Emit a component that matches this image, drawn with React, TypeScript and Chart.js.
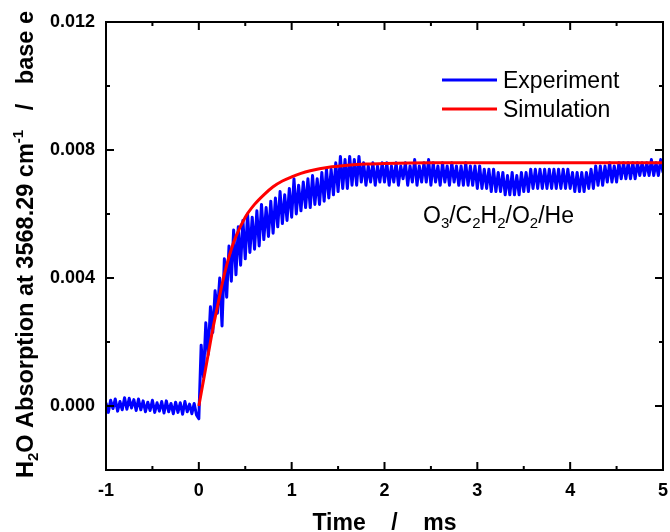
import React, { useEffect, useRef } from 'react';
import { Chart, registerables } from 'chart.js';

Chart.register(...registerables);

// ---- data ----
const expStart = -1;
const expStep = 0.025;
// t = -1.000 .. -0.025
const expBaseline = [
  0.0001, -0.0002, 0.00018, -0.00008, 0.00022, -0.00016, 0.00014, -0.00012, 0.00026, -0.0001,
  0.00024, -0.00006, 0.0002, -0.00014, 0.00022, -0.00012, 0.00016, -0.00018, 0.00012, -0.00014,
  0.00018, -0.0002, 0.0001, -0.00016, 0.00014, -0.00022, 0.00016, -0.00018, 0.00008, -0.00024,
  0.00012, -0.0002, 0.0001, -0.00026, 0.00014, -0.00018, 0.00006, -0.00024, 0.00008, -0.00028,
];
// t = 0.000 .. 1.975
const expRise = [
  -0.0004, 0.0019, 0.0009, 0.0026, 0.0016, 0.0031, 0.0023, 0.0036, 0.0029, 0.004,
  0.0025, 0.0046, 0.0034, 0.005, 0.0039, 0.0055, 0.0041, 0.0056, 0.0044, 0.0058,
  0.0046, 0.006, 0.0048, 0.0059, 0.0049, 0.0061, 0.005, 0.0063, 0.0052, 0.0062,
  0.0053, 0.0064, 0.0054, 0.0065, 0.0056, 0.0067, 0.0057, 0.0066, 0.0058, 0.0068,
  0.0059, 0.0071, 0.006, 0.0069, 0.0061, 0.007, 0.0062, 0.0071, 0.0062, 0.0072,
  0.0063, 0.0071, 0.0063, 0.0073, 0.0064, 0.0074, 0.0065, 0.0074, 0.0066, 0.0076,
  0.0067, 0.0078, 0.0068, 0.0077, 0.0068, 0.0078, 0.0069, 0.0077, 0.0069, 0.0078,
  0.007, 0.0076, 0.0069, 0.0075, 0.007, 0.0076, 0.0069, 0.0075, 0.007, 0.0076,
];
// t = 2.000 .. 5.000
const expPlateau = [
  0.007, 0.0076, 0.0069, 0.0075, 0.007, 0.0076, 0.0069, 0.0075, 0.0071, 0.0076,
  0.0069, 0.0075, 0.007, 0.0077, 0.0069, 0.0075, 0.007, 0.0076, 0.007, 0.0077,
  0.0069, 0.0076, 0.007, 0.0075, 0.0069, 0.0076, 0.007, 0.0075, 0.0069, 0.0076,
  0.007, 0.0075, 0.0069, 0.0075, 0.0069, 0.0076, 0.0069, 0.0075, 0.0069, 0.0075,
  0.0068, 0.0075, 0.0068, 0.0074, 0.0068, 0.0074, 0.0067, 0.0074, 0.0067, 0.0073,
  0.0067, 0.0073, 0.0066, 0.0072, 0.0066, 0.0073, 0.0066, 0.0072, 0.0066, 0.0073,
  0.0067, 0.0073, 0.0067, 0.0074, 0.0068, 0.0074, 0.0068, 0.0074, 0.0068, 0.0074,
  0.0068, 0.0074, 0.0068, 0.0074, 0.0068, 0.0074, 0.0068, 0.0074, 0.0068, 0.0074,
  0.0068, 0.0073, 0.0067, 0.0073, 0.0067, 0.0073, 0.0067, 0.0073, 0.0068, 0.0074,
  0.0068, 0.0075, 0.0069, 0.0075, 0.0069, 0.0075, 0.007, 0.0076, 0.007, 0.0075,
  0.007, 0.0076, 0.0071, 0.0076, 0.0071, 0.0076, 0.0071, 0.0076, 0.0071, 0.0076,
  0.0072, 0.0076, 0.0072, 0.0076, 0.0072, 0.0077, 0.0072, 0.0076, 0.0072, 0.0077,
  0.0073,
];

const simTime = [0, 0.05, 0.1, 0.15, 0.2, 0.25, 0.3, 0.35, 0.4, 0.5, 0.6, 0.7, 0.8, 0.9, 1.0, 1.1, 1.2, 1.4, 1.6, 1.8, 2.0, 2.5, 3, 4, 5];
const simValue = [0, 0.0008, 0.0016, 0.0024, 0.0031, 0.0038, 0.0044, 0.0049, 0.0053, 0.0059, 0.0063, 0.0066, 0.00685, 0.00703, 0.00716, 0.00727, 0.00735, 0.00746, 0.00752, 0.00756, 0.00758, 0.0076, 0.0076, 0.0076, 0.0076];

const xMajorTicks = [-1, 0, 1, 2, 3, 4, 5];
const xMinorTicks = [-0.5, 0.5, 1.5, 2.5, 3.5, 4.5];
const yMajorTicks = [0, 0.004, 0.008, 0.012];
const yMinorTicks = [0.002, 0.006, 0.01];

const seriesNames = ['Experiment', 'Simulation'];
const seriesColors = ['#0000ff', '#ff0000'];

const FONT = "'Liberation Sans', Arial, Helvetica, sans-serif";

type Run = { t: string; size: number; dy: number };

function runsWidth(ctx: CanvasRenderingContext2D, runs: Run[], weight: string) {
  let w = 0;
  for (const r of runs) {
    ctx.font = `${weight} ${r.size}px ${FONT}`;
    w += ctx.measureText(r.t).width;
  }
  return w;
}

function drawRuns(ctx: CanvasRenderingContext2D, runs: Run[], x: number, y: number, weight: string) {
  let cx = x;
  ctx.textBaseline = 'alphabetic';
  ctx.textAlign = 'left';
  for (const r of runs) {
    ctx.font = `${weight} ${r.size}px ${FONT}`;
    ctx.fillText(r.t, cx, y + r.dy);
    cx += ctx.measureText(r.t).width;
  }
}

const decorPlugin = {
  id: 'decor',
  afterDatasetsDraw(chart: any) {
    const { ctx, chartArea: a, scales } = chart;
    const xs = scales.x;
    const ys = scales.y;
    ctx.save();
    ctx.strokeStyle = '#000';
    ctx.lineWidth = 2;
    ctx.beginPath();
    const tick = (px: number, len: number, horiz: boolean) => {
      if (horiz) {
        ctx.moveTo(px, a.bottom);
        ctx.lineTo(px, a.bottom - len);
        ctx.moveTo(px, a.top);
        ctx.lineTo(px, a.top + len);
      } else {
        ctx.moveTo(a.left, px);
        ctx.lineTo(a.left + len, px);
        ctx.moveTo(a.right, px);
        ctx.lineTo(a.right - len, px);
      }
    };
    xMajorTicks.forEach((v) => tick(xs.getPixelForValue(v), 8, true));
    xMinorTicks.forEach((v) => tick(xs.getPixelForValue(v), 4, true));
    yMajorTicks.forEach((v) => tick(ys.getPixelForValue(v), 8, false));
    yMinorTicks.forEach((v) => tick(ys.getPixelForValue(v), 4, false));
    ctx.stroke();
    ctx.strokeRect(a.left, a.top, a.right - a.left, a.bottom - a.top);
    ctx.restore();
  },
  afterDraw(chart: any) {
    const { ctx, chartArea: a } = chart;
    ctx.save();
    ctx.fillStyle = '#000';

    // Legend
    const legendY = [80, 109];
    seriesNames.forEach((name, i) => {
      ctx.strokeStyle = seriesColors[i];
      ctx.lineWidth = 3;
      ctx.beginPath();
      ctx.moveTo(442, legendY[i]);
      ctx.lineTo(497, legendY[i]);
      ctx.stroke();
      ctx.font = `normal 23px ${FONT}`;
      ctx.textAlign = 'left';
      ctx.textBaseline = 'alphabetic';
      ctx.fillStyle = '#000';
      ctx.fillText(name, 503, legendY[i] + 8);
    });

    // Annotation
    const ann: Run[] = [
      { t: 'O', size: 23, dy: 0 },
      { t: '3', size: 15, dy: 5 },
      { t: '/C', size: 23, dy: 0 },
      { t: '2', size: 15, dy: 5 },
      { t: 'H', size: 23, dy: 0 },
      { t: '2', size: 15, dy: 5 },
      { t: '/O', size: 23, dy: 0 },
      { t: '2', size: 15, dy: 5 },
      { t: '/He', size: 23, dy: 0 },
    ];
    drawRuns(ctx, ann, 423, 223, 'normal');

    // X title
    const xt: Run[] = [{ t: 'Time    /    ms', size: 23, dy: 0 }];
    const xw = runsWidth(ctx, xt, 'bold');
    drawRuns(ctx, xt, (a.left + a.right) / 2 - xw / 2, 530, 'bold');

    // Y title (rotated)
    const yt: Run[] = [
      { t: 'H', size: 23.5, dy: 0 },
      { t: '2', size: 15, dy: 5 },
      { t: 'O Absorption at 3568.29 cm', size: 23.5, dy: 0 },
      { t: '-1', size: 15, dy: -10 },
      { t: '   /   base e', size: 23.5, dy: 0 },
    ];
    const yw = runsWidth(ctx, yt, 'bold');
    ctx.translate(33, 244.5);
    ctx.rotate(-Math.PI / 2);
    drawRuns(ctx, yt, -yw / 2, 0, 'bold');
    ctx.restore();
  },
};

export default function App() {
  const ref = useRef<HTMLCanvasElement | null>(null);
  useEffect(() => {
    if (!ref.current) return;
    const expValues = [...expBaseline, ...expRise, ...expPlateau];
    const expData = expValues.map((v, i) => ({ x: +(expStart + i * expStep).toFixed(3), y: v }));
    const simData = simTime.map((t, i) => ({ x: t, y: simValue[i] }));
    const tickFont = { family: FONT, size: 18, weight: 'bold' as const };
    const chart = new Chart(ref.current, {
      type: 'line',
      data: {
        datasets: [
          {
            label: seriesNames[1],
            data: simData,
            borderColor: seriesColors[1],
            backgroundColor: seriesColors[1],
            borderWidth: 3,
            pointRadius: 0,
            cubicInterpolationMode: 'monotone',
            order: 0,
          },
          {
            label: seriesNames[0],
            data: expData,
            borderColor: seriesColors[0],
            backgroundColor: seriesColors[0],
            borderWidth: 3,
            borderJoinStyle: 'round',
            pointRadius: 0,
            tension: 0,
            order: 1,
          },
        ],
      },
      options: {
        animation: false,
        responsive: false,
        devicePixelRatio: 1,
        plugins: { legend: { display: false }, tooltip: { enabled: false } },
        layout: { padding: { top: 22, right: 7, left: 0, bottom: 0 } },
        scales: {
          x: {
            type: 'linear',
            min: -1,
            max: 5,
            grid: { display: false, drawTicks: false },
            border: { display: false },
            ticks: {
              font: tickFont,
              color: '#000',
              padding: 10,
              maxRotation: 0,
              autoSkip: false,
              callback: (v: any) => String(v),
            },
            afterBuildTicks: (s: any) => {
              s.ticks = xMajorTicks.map((v) => ({ value: v }));
            },
            afterFit: (s: any) => {
              s.height = 62;
              s.paddingLeft = 0;
              s.paddingRight = 0;
            },
          },
          y: {
            type: 'linear',
            min: -0.002,
            max: 0.012,
            grid: { display: false, drawTicks: false },
            border: { display: false },
            ticks: {
              font: tickFont,
              color: '#000',
              padding: 11,
              autoSkip: false,
              callback: (v: any) => Number(v).toFixed(3),
            },
            afterBuildTicks: (s: any) => {
              s.ticks = yMajorTicks.map((v) => ({ value: v }));
            },
            afterFit: (s: any) => {
              s.width = 106;
              s.paddingTop = 0;
              s.paddingBottom = 0;
            },
          },
        },
      },
      plugins: [decorPlugin],
    });
    return () => chart.destroy();
  }, []);
  return (
    <div style={{ position: 'absolute', left: 0, top: 0, width: 670, height: 532, background: '#fff' }}>
      <canvas ref={ref} width={670} height={532} style={{ display: 'block' }} />
    </div>
  );
}
